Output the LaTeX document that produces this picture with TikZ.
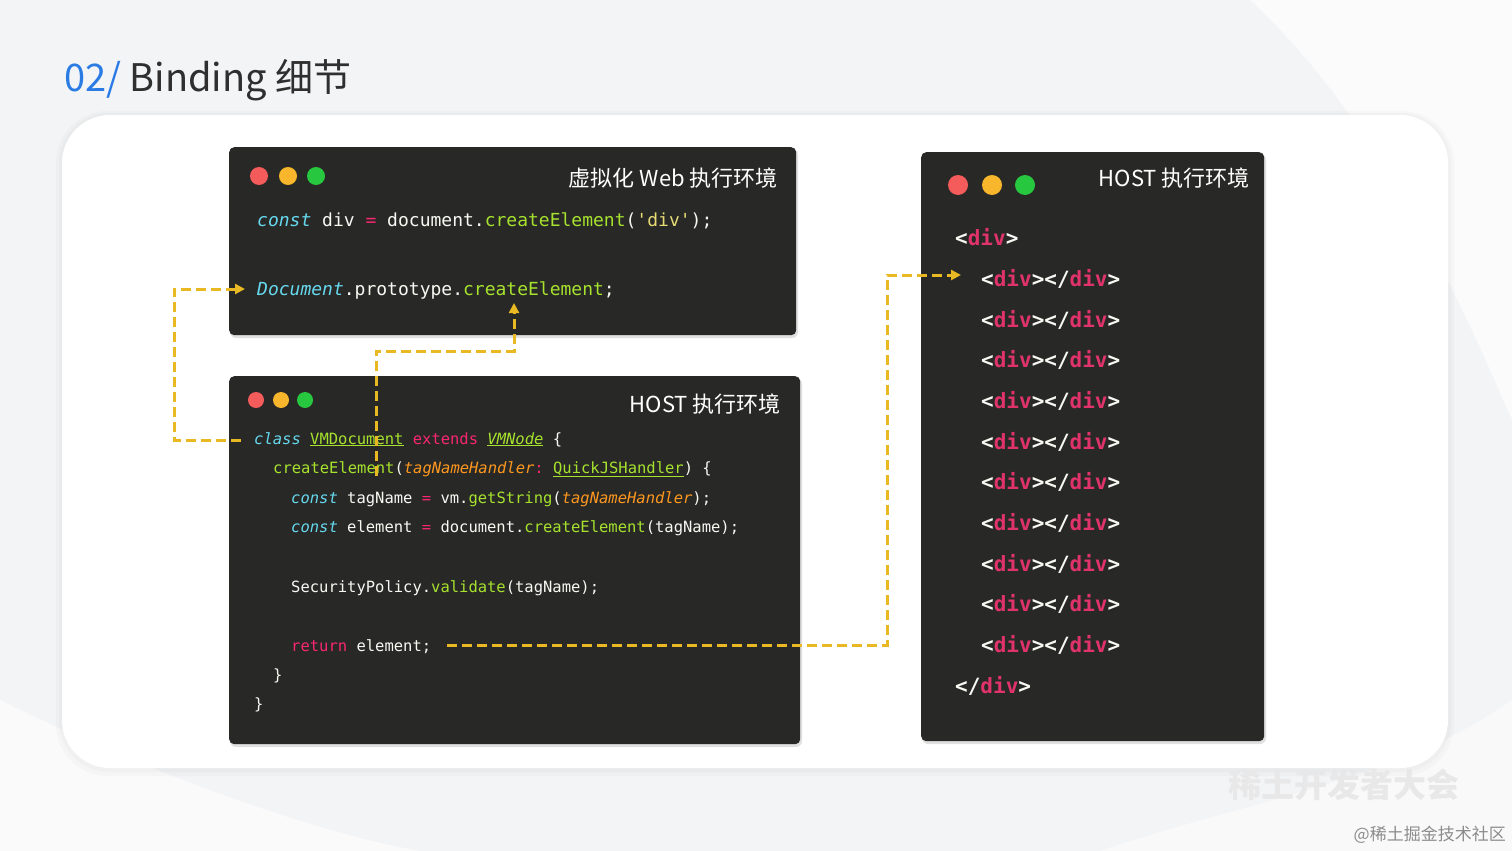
\documentclass[tikz,border=0pt]{standalone}
\usepackage{fontspec}
\usetikzlibrary{arrows.meta}
\setmainfont{Noto Sans CJK SC}
\setmonofont{DejaVu Sans Mono}
\definecolor{bgc}{HTML}{F3F4F6}
\definecolor{winc}{HTML}{282826}
\definecolor{titleblue}{HTML}{2A7BE4}
\definecolor{titledark}{HTML}{2F2F2F}
\definecolor{cKw}{HTML}{66D9EF}
\definecolor{cPink}{HTML}{F92672}
\definecolor{cGreen}{HTML}{A6E22E}
\definecolor{cYel}{HTML}{E6DB74}
\definecolor{cOr}{HTML}{FD971F}
\definecolor{cTxt}{HTML}{F8F8F2}
\definecolor{cTag}{HTML}{E0336B}
\definecolor{flowc}{HTML}{E8B923}
\definecolor{dRed}{HTML}{F45B5B}
\definecolor{dYel}{HTML}{F8B62D}
\definecolor{dGreen}{HTML}{27C840}
\newcommand\kwd[1]{{\color{cKw}\itshape #1}}
\newcommand\pk[1]{{\color{cPink}#1}}
\newcommand\fnc[1]{{\color{cGreen}#1}}
\newcommand\strg[1]{{\color{cYel}#1}}
\newcommand\prm[1]{{\color{cOr}\itshape #1}}
\newcommand\cls[1]{{\color{cGreen}\underline{#1}}}
\newcommand\clsi[1]{{\color{cGreen}\itshape\underline{#1}}}
\newcommand\tg[1]{{\color{cTag}#1}}
\tikzset{
  win/.style={fill=winc, rounded corners=5pt, draw=none, inner sep=0pt, anchor=north west},
  winshadow/.style={fill=black, opacity=0.12, rounded corners=6pt},
  dotnode/.style={circle, inner sep=0pt, minimum size=#1},
  wtitle/.style={anchor=east, inner sep=0pt, text=white, font=\fontsize{22}{24}\selectfont},
  codeA/.style={anchor=base west, inner sep=0pt, text=cTxt, font=\ttfamily\fontsize{18}{20}\selectfont},
  codeB/.style={anchor=base west, inner sep=0pt, text=cTxt, font=\ttfamily\fontsize{15.5}{18}\selectfont},
  codeC/.style={anchor=base west, inner sep=0pt, text=cTxt, font=\ttfamily\bfseries\fontsize{21}{24}\selectfont},
  flow/.style={draw=flowc, line width=3pt, dash pattern=on 10pt off 5pt, -{Triangle[length=10pt,width=10pt]}},
}
\begin{document}
\begin{tikzpicture}[x=1pt,y=-1pt]
\useasboundingbox (0,0) rectangle (1512,851);
\fill[bgc] (0,0) rectangle (1512,851);
% soft background swooshes
\fill[white, opacity=0.7] (1250,0) .. controls (1380,120) and (1460,300) .. (1512,420) -- (1512,0) -- cycle;
\fill[white, opacity=0.6] (0,700) .. controls (120,760) and (300,830) .. (420,851) -- (0,851) -- cycle;
\fill[white, opacity=0.5] (1100,851) .. controls (1250,800) and (1400,780) .. (1512,700) -- (1512,851) -- cycle;
% title
\node[anchor=base west, inner sep=0pt, font=\fontsize{38}{40}\selectfont] (title) at (64,92)
  {\textcolor{titleblue}{02/} \textcolor{titledark}{Binding 细节}};
% card
\fill[black, opacity=0.02, rounded corners=52pt] (56,111) rectangle (1454,776);
\fill[black, opacity=0.02, rounded corners=50pt] (59,113) rectangle (1451,772);
\fill[white, rounded corners=48pt] (62,115) rectangle (1448,768);

% ---------- window 1 ----------
\fill[winshadow] (230,149) rectangle (798,338);
\node[win, minimum width=567pt, minimum height=188pt] (w1) at (229,147) {};
\node[dotnode=18pt, fill=dRed] (w1r) at (259,176) {};
\node[dotnode=18pt, fill=dYel] (w1y) at (288,176) {};
\node[dotnode=18pt, fill=dGreen] (w1g) at (316,176) {};
\node[wtitle] (w1t) at (778,178) {虚拟化 Web 执行环境};
\node[codeA] (c11) at (257,226) {\kwd{const} div \pk{=} document.\fnc{createElement}(\strg{'div'});};
\node[codeA] (c12) at (257,295) {\kwd{Document}.prototype.\fnc{createElement};};

% ---------- window 2 ----------
\fill[winshadow] (230,378) rectangle (802,747);
\node[win, minimum width=571pt, minimum height=368pt] (w2) at (229,376) {};
\node[dotnode=16pt, fill=dRed] (w2r) at (256,400) {};
\node[dotnode=16pt, fill=dYel] (w2y) at (281,400) {};
\node[dotnode=16pt, fill=dGreen] (w2g) at (305,400) {};
\node[wtitle] (w2t) at (781,404) {HOST 执行环境};
\node[codeB] (c21) at (254,444) {\kwd{class} \cls{VMDocument} \pk{extends} \clsi{VMNode} \{};
\node[codeB] (c22) at (273,473) {\fnc{createElement}(\prm{tagNameHandler}\pk{:} \cls{QuickJSHandler}) \{};
\node[codeB] (c23) at (291,503) {\kwd{const} tagName \pk{=} vm.\fnc{getString}(\prm{tagNameHandler});};
\node[codeB] (c24) at (291,532) {\kwd{const} element \pk{=} document.\fnc{createElement}(tagName);};
\node[codeB] (c25) at (291,592) {SecurityPolicy.\fnc{validate}(tagName);};
\node[codeB] (c26) at (291,651) {\pk{return} element;};
\node[codeB] (c27) at (273,680) {\}};
\node[codeB] (c28) at (254,709) {\}};

% ---------- window 3 ----------
\fill[winshadow] (922,154) rectangle (1266,744);
\node[win, minimum width=343pt, minimum height=589pt] (w3) at (921,152) {};
\node[dotnode=20pt, fill=dRed] (w3r) at (958,185) {};
\node[dotnode=20pt, fill=dYel] (w3y) at (992,185) {};
\node[dotnode=20pt, fill=dGreen] (w3g) at (1025,185) {};
\node[wtitle] (w3t) at (1250,178) {HOST 执行环境};
\node[codeC] (d0) at (955,245) {<\tg{div}>};
\foreach \i/\yy in {1/279,2/320,3/360,4/401,5/442,6/482,7/523,8/564,9/604,10/645}{
  \node[codeC] (d\i) at (981,\yy+7) {<\tg{div}></\tg{div}>};
}
\node[codeC] (d11) at (955,693) {</\tg{div}>};

% ---------- flows ----------
\coordinate (a1s) at (241,440);
\coordinate (a1e) at (245,289);
\draw[flow] (a1s) -- ++(-67,0) |- (a1e);
\coordinate (a2s) at (376,476);
\coordinate (a2e) at (514,303);
\draw[flow] (a2s) -- ++(0,-125) -| (a2e);
\coordinate (a3s) at (447,645);
\coordinate (a3e) at (961,275);
\draw[flow] (a3s) -- ++(440,0) |- (a3e);

% ---------- watermark ----------
\node[anchor=base west, inner sep=0pt, text=black!9, font=\bfseries\fontsize{33}{36}\selectfont] (wm1) at (1228,797) {稀土开发者大会};
\node[anchor=base east, inner sep=0pt, text=black!45, font=\fontsize{17}{19}\selectfont] (wm2) at (1506,840) {@稀土掘金技术社区};
\end{tikzpicture}
\end{document}
